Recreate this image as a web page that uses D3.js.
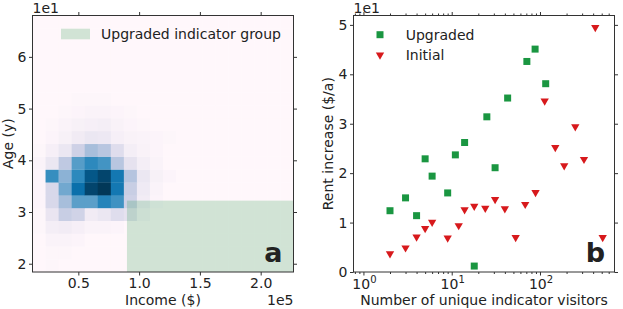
<!DOCTYPE html>
<html>
<head>
<meta charset="utf-8">
<script src="https://cdn.jsdelivr.net/npm/d3@7"></script>
<style>
  body { margin: 0; background: #fff; }
  text { font-family: "DejaVu Sans", sans-serif; fill: #222; }
  .tick line { stroke: #333; }
</style>
</head>
<body>
<svg id="chart" width="623" height="309"></svg>
<script>
  // panel a: 2d histogram of income (x1e5) vs age (x1e1)
  incomeDomain = [0.123, 2.27];
  ageDomain = [1.84, 6.80];
  incomeTicks = [0.5, 1.0, 1.5, 2.0];
  ageTicks = [2, 3, 4, 5, 6];
  // rows from the bottom bin upward, columns from the left bin (20 x 20 bins, missing = 0)
  heatCounts = [
    [0, 1],
    [0, 1, 1],
    [0, 3, 3, 2],
    [1, 7, 8, 6, 3, 3, 2],
    [1, 13, 27, 24, 9, 12, 18, 15, 4],
    [2, 21, 37, 55, 55, 67, 61, 25, 8, 2],
    [2, 21, 50, 76, 95, 100, 72, 27, 10, 3],
    [2, 63, 44, 65, 88, 95, 72, 33, 12, 5, 2],
    [3, 12, 30, 56, 65, 60, 32, 15, 7, 3],
    [1, 6, 12, 25, 37, 32, 18, 7, 4, 2],
    [0, 2, 5, 9, 12, 11, 6, 4, 3, 2, 1],
    [0, 1, 3, 5, 6, 7, 4, 2, 1],
    [0, 0, 1, 2, 3, 3, 2, 1],
    [0, 0, 0, 1, 1, 1]
  ];
  upgradedIncome = [0.9, 2.27];
  upgradedAge = [1.84, 3.22];

  // panel b: rent increase (x1e1) vs unique indicator visitors
  visitorDomain = [0.772, 698];
  rentDomain = [0, 5.19];
  visitorTicks = [1, 10, 100];
  rentTicks = [0, 1, 2, 3, 4, 5];
  upgradedVisitors = [2, 3, 4, 5, 6, 9, 11, 14, 18, 25, 31, 43, 71, 88, 116];
  upgradedRent = [1.24, 1.50, 1.14, 2.29, 1.94, 1.60, 2.37, 2.62, 0.12, 3.14, 2.11, 3.52, 4.26, 4.51, 3.81];
  initialVisitors = [2, 3, 4, 5, 6, 9, 12, 14, 18, 24, 31, 40, 53, 68, 89, 113, 149, 188, 251, 315, 423, 513];
  initialRent = [0.37, 0.49, 0.71, 0.88, 1.01, 0.69, 0.94, 1.26, 1.33, 1.29, 1.47, 1.28, 0.70, 1.37, 1.61, 3.46, 2.52, 2.15, 2.94, 2.28, 4.95, 0.70];

  svg = d3.select("#chart");
  greenColour = "#1a9641";
  redColour = "#d7191c";
  top_ = 15.5;
  bottom = 272;

  function frameAxes(g, x, y, xTicks, yTicks, xFormat, yFormat) {
    g.append("g")
      .attr("transform", "translate(0," + bottom + ")")
      .call(d3.axisBottom(x).tickValues(xTicks).tickFormat(xFormat).tickSize(3.5).tickPadding(3))
      .call(function(a) { a.select(".domain").remove(); });
    g.append("g")
      .attr("transform", "translate(0," + top_ + ")")
      .call(d3.axisTop(x).tickValues(xTicks).tickFormat("").tickSize(3.5))
      .call(function(a) { a.select(".domain").remove(); });
    g.append("g")
      .attr("transform", "translate(" + x.range()[0] + ",0)")
      .call(d3.axisLeft(y).tickValues(yTicks).tickFormat(yFormat).tickSize(3.5).tickPadding(2.5))
      .call(function(a) { a.select(".domain").remove(); });
    g.append("g")
      .attr("transform", "translate(" + x.range()[1] + ",0)")
      .call(d3.axisRight(y).tickValues(yTicks).tickFormat("").tickSize(3.5))
      .call(function(a) { a.select(".domain").remove(); });
    g.selectAll(".tick text").style("font-size", "14px").attr("fill", "#222");
  }

  function frame(g, x) {
    g.append("rect")
      .attr("x", x.range()[0]).attr("y", top_)
      .attr("width", x.range()[1] - x.range()[0]).attr("height", bottom - top_)
      .attr("fill", "none").attr("stroke", "#333").attr("stroke-width", 1);
  }

  // ---------- panel a ----------
  ga = svg.append("g");
  xa = d3.scaleLinear().domain(incomeDomain).range([32.5, 293.5]);
  ya = d3.scaleLinear().domain(ageDomain).range([bottom, top_]);
  colBand = d3.scaleBand().domain(d3.range(20)).range(xa.range());
  rowBand = d3.scaleBand().domain(d3.range(20)).range(ya.range());
  heatColour = d3.scaleSequential(d3.interpolatePuBu).domain([0, d3.max(heatCounts, function(r) { return d3.max(r); })]);

  cells = [];
  d3.range(20).forEach(function(r) {
    d3.range(20).forEach(function(c) {
      v = (heatCounts[r] && heatCounts[r][c]) || 0;
      cells.push({ row: r, col: c, value: v });
    });
  });

  ga.selectAll(".cell")
    .data(cells)
    .enter().append("rect")
      .attr("class", "cell")
      .attr("x", function(d) { return colBand(d.col); })
      .attr("y", function(d) { return rowBand(d.row); })
      .attr("width", colBand.bandwidth() + 0.3)
      .attr("height", rowBand.bandwidth() + 0.3)
      .attr("fill", function(d) { return heatColour(d.value); });

  ga.append("rect")
    .attr("x", xa(upgradedIncome[0]))
    .attr("y", ya(upgradedAge[1]))
    .attr("width", xa(upgradedIncome[1]) - xa(upgradedIncome[0]))
    .attr("height", ya(upgradedAge[0]) - ya(upgradedAge[1]))
    .attr("fill", greenColour).attr("fill-opacity", 0.2);

  frameAxes(ga, xa, ya, incomeTicks, ageTicks, d3.format(".1f"), d3.format("d"));
  frame(ga, xa);

  // legend a
  ga.append("rect").attr("x", 61).attr("y", 28.7).attr("width", 29).attr("height", 10.6)
    .attr("fill", greenColour).attr("fill-opacity", 0.2);
  ga.append("text").attr("x", 101).attr("y", 38.6).style("font-size", "14px").text("Upgraded indicator group");

  ga.append("text").attr("x", 32.5).attr("y", 12.5).style("font-size", "14px").text("1e1");
  ga.append("text").attr("x", 293.5).attr("y", 304.5).attr("text-anchor", "end").style("font-size", "14px").text("1e5");
  ga.append("text").attr("x", 163).attr("y", 304.5).attr("text-anchor", "middle").style("font-size", "14px").text("Income ($)");
  ga.append("text").attr("transform", "translate(12.5,143.7) rotate(-90)").attr("text-anchor", "middle")
    .style("font-size", "14px").text("Age (y)");
  ga.append("text").attr("x", 282.5).attr("y", 261.5).attr("text-anchor", "end")
    .style("font-size", "27px").style("font-weight", "bold").text("a");

  // ---------- panel b ----------
  gb = svg.append("g");
  xb = d3.scaleLog().domain(visitorDomain).range([353.5, 614.5]);
  yb = d3.scaleLinear().domain(rentDomain).range([bottom, top_]);

  frameAxes(gb, xb, yb, visitorTicks, rentTicks, function() { return ""; }, d3.format("d"));

  // minor log ticks
  minor = [];
  [0.1, 1, 10, 100].forEach(function(dec) {
    [2, 3, 4, 5, 6, 7, 8, 9].forEach(function(m) {
      v = dec * m;
      if (v > visitorDomain[0] && v < visitorDomain[1]) minor.push(v);
    });
  });
  gb.append("g")
    .attr("transform", "translate(0," + bottom + ")")
    .call(d3.axisBottom(xb).tickValues(minor).tickFormat("").tickSize(2))
    .call(function(a) { a.select(".domain").remove(); });
  gb.append("g")
    .attr("transform", "translate(0," + top_ + ")")
    .call(d3.axisTop(xb).tickValues(minor).tickFormat("").tickSize(2))
    .call(function(a) { a.select(".domain").remove(); });

  // 10^n labels
  gb.selectAll(".powLabel")
    .data(visitorTicks)
    .enter().append("text")
      .attr("class", "powLabel")
      .attr("x", function(d) { return xb(d) + 1; })
      .attr("y", 288.5)
      .attr("text-anchor", "middle")
      .style("font-size", "14px")
      .each(function(d) {
        t = d3.select(this);
        t.append("tspan").text("10");
        t.append("tspan").attr("dy", -6).style("font-size", "10px").text(Math.round(Math.log10(d)));
      });

  gb.selectAll(".upg")
    .data(upgradedVisitors)
    .enter().append("path")
      .attr("class", "upg")
      .attr("transform", function(d, i) { return "translate(" + xb(d) + "," + yb(upgradedRent[i]) + ")"; })
      .attr("d", d3.symbol().type(d3.symbolSquare).size(49))
      .attr("fill", greenColour);

  gb.selectAll(".ini")
    .data(initialVisitors)
    .enter().append("path")
      .attr("class", "ini")
      .attr("transform", function(d, i) { return "translate(" + xb(d) + "," + yb(initialRent[i]) + ") rotate(180)"; })
      .attr("d", d3.symbol().type(d3.symbolTriangle).size(30))
      .attr("fill", redColour);

  frame(gb, xb);

  // legend b
  gb.append("path").attr("transform", "translate(380,34.7)")
    .attr("d", d3.symbol().type(d3.symbolSquare).size(49)).attr("fill", greenColour);
  gb.append("path").attr("transform", "translate(380,55) rotate(180)")
    .attr("d", d3.symbol().type(d3.symbolTriangle).size(30)).attr("fill", redColour);
  gb.append("text").attr("x", 405.7).attr("y", 39.5).style("font-size", "14px").text("Upgraded");
  gb.append("text").attr("x", 405.7).attr("y", 60).style("font-size", "14px").text("Initial");

  gb.append("text").attr("x", 353.5).attr("y", 12.5).style("font-size", "14px").text("1e1");
  gb.append("text").attr("x", 484).attr("y", 304.5).attr("text-anchor", "middle").style("font-size", "14px")
    .text("Number of unique indicator visitors");
  gb.append("text").attr("transform", "translate(333,143.7) rotate(-90)").attr("text-anchor", "middle")
    .style("font-size", "14px").text("Rent increase ($/a)");
  gb.append("text").attr("x", 605).attr("y", 261.5).attr("text-anchor", "end")
    .style("font-size", "27px").style("font-weight", "bold").text("b");
</script>
</body>
</html>
